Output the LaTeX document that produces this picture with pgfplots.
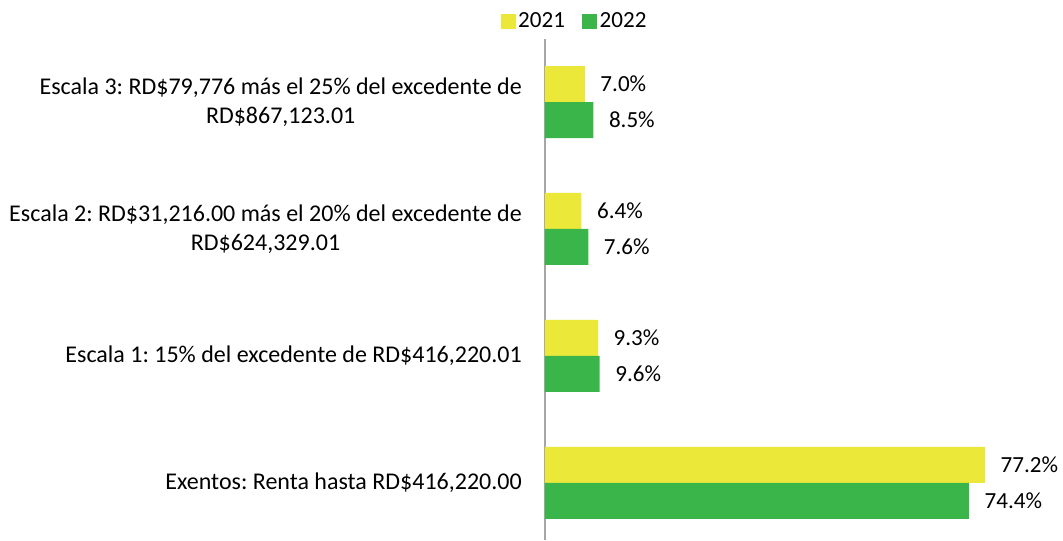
\documentclass[border=0pt]{standalone}
\usepackage{pgfplots}
\pgfplotsset{compat=1.18}
\usepackage{fontspec}
\setmainfont{Carlito}
\definecolor{cyel}{RGB}{235,232,58}
\definecolor{cgrn}{RGB}{58,181,74}
\begin{document}
\frenchspacing
\begin{tikzpicture}
\fontsize{17}{21}\selectfont
\begin{axis}[
  scale only axis,
  width=384.75pt, height=376.1pt,
  xbar, bar width=27pt,
  xmin=0, xmax=90,
  ymin=-0.45, ymax=3.5,
  axis x line=none,
  axis y line=left,
  y axis line style={-, draw=black!35, line width=0.8pt},
  ytick={0,1,2,3},
  yticklabels={{Exentos: Renta hasta RD\$416,220.00},{Escala 1: 15\% del excedente de RD\$416,220.01},{Escala 2: RD\$31,216.00 más el 20\% del excedente de\\RD\$624,329.01},{Escala 3: RD\$79,776 más el 25\% del excedente de\\RD\$867,123.01}},
  yticklabel style={align=center, anchor=east, inner sep=0pt, xshift=-17.25pt, font=\fontsize{18}{21.5}\selectfont\frenchspacing},
  major tick length=0pt,
  xtick=\empty,
  /pgf/number format/assume math mode=true,
  nodes near coords={\pgfmathprintnumber[fixed,fixed zerofill,precision=1]{\pgfplotspointmeta}\%},
  nodes near coords style={anchor=west, inner sep=0pt, xshift=11.5pt, font=\fontsize{17.3}{21}\selectfont, text=black},
  clip=false,
  legend columns=2,
  legend style={at={(0.0585,1.033)}, anchor=center, draw=none, fill=none, font=\fontsize{17.3}{21}\selectfont, inner sep=0pt, /tikz/every even column/.append style={column sep=11pt}},
  legend image code/.code={\fill[#1] (-1pt,-5.2pt) rectangle (10pt,5.8pt);},
]
\addplot[fill=cyel, draw=none, bar shift=13.5pt] coordinates {(77.2,0) (9.3,1) (6.4,2) (7.0,3)};
\addlegendentry{2021}
\addplot[fill=cgrn, draw=none, bar shift=-13.5pt] coordinates {(74.4,0) (9.6,1) (7.6,2) (8.5,3)};
\addlegendentry{2022}
\end{axis}
\pgfresetboundingbox
\path (-408.75pt,0) rectangle (388.5pt,405pt);
\end{tikzpicture}
\end{document}
